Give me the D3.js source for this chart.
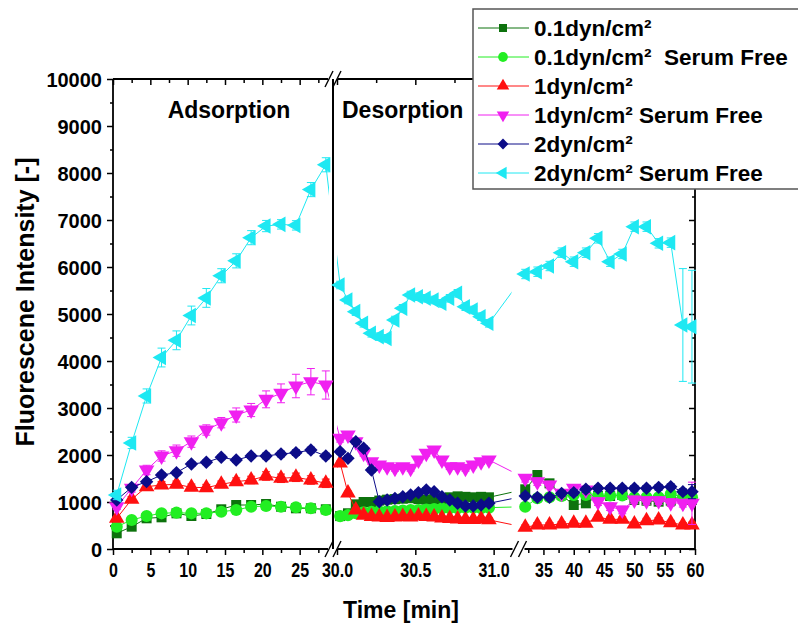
<!DOCTYPE html>
<html>
<head>
<meta charset="utf-8">
<script src="https://cdn.jsdelivr.net/npm/d3@7"></script>
<style>
body { margin: 0; background: #fff; }
text { font-family: Arial, "Liberation Sans", sans-serif; font-weight: bold; fill: #000; white-space: pre; }
</style>
</head>
<body>
<div id="chart"></div>
<script>

width = 798
height = 625

// time points [min]: adsorption, desorption, after second break
const tAds = [0.5, 2.5, 4.5, 6.5, 8.5, 10.5, 12.5, 14.5, 16.5, 18.5, 20.5, 22.5, 24.5, 26.5, 28.5]
const tDes = [30.02, 30.07, 30.12, 30.17, 30.22, 30.27, 30.32, 30.37, 30.42, 30.47,
              30.52, 30.57, 30.62, 30.67, 30.72, 30.77, 30.82, 30.87, 30.92, 30.97]
const tRec = [32, 34, 36, 38, 40, 42, 44, 46, 48, 50, 52, 54, 56, 58, 59.5]

const names = ["0.1dyn/cm²", "0.1dyn/cm²  Serum Free", "1dyn/cm²", "1dyn/cm² Serum Free", "2dyn/cm²", "2dyn/cm² Serum Free"]
const colors = ["#0d720d", "#22ee22", "#ff1010", "#f020f0", "#0c0c88", "#1ee8f2"]

const yTicks = [0, 1000, 2000, 3000, 4000, 5000, 6000, 7000, 8000, 9000, 10000]

// fluorescence values, one array per series (adsorption | desorption | rest)
const v01 = [334, 475, 653, 674, 759, 702, 745, 845, 936, 936, 957, 900, 866, 866, 845,
             700, 760, 950, 1000, 1000, 1030, 1050, 1060, 1070, 1080, 1060, 1050, 1060, 1050, 1100, 1120, 1110, 1100, 1110, 1100,
             1270, 1574, 1397, 1149, 936, 972, 1128, 1128, 1149, 1043, 1028, 1007, 1028, 1149, 1043]
const v01sf = [475, 617, 702, 759, 773, 759, 759, 794, 830, 900, 915, 900, 887, 866, 830,
               700, 720, 760, 780, 790, 800, 800, 810, 820, 830, 830, 840, 850, 860, 870, 870, 880, 880, 870, 880,
               900, 1080, 1100, 1130, 1150, 1150, 1130, 1140, 1140, 1100, 1100, 1100, 1170, 1100, 1100]
const v1 = [652, 1057, 1326, 1362, 1376, 1312, 1305, 1376, 1433, 1468, 1553, 1504, 1525, 1468, 1397,
            1830, 1190, 830, 720, 690, 680, 670, 680, 690, 680, 700, 690, 680, 660, 650, 640, 630, 630, 640, 620,
            461, 511, 511, 532, 546, 546, 674, 631, 631, 532, 603, 617, 560, 511, 511]
const v1sf = [900, 1291, 1681, 1979, 2092, 2284, 2532, 2688, 2851, 2957, 3184, 3312, 3468, 3560, 3489,
              2355, 2426, 2284, 2036, 1858, 1787, 1752, 1716, 1752, 1716, 1894, 2036, 2106, 1894, 1752, 1752, 1716, 1787, 1858, 1894,
              1504, 1433, 1362, 1184, 1291, 1255, 1007, 900, 830, 1043, 1028, 1028, 986, 972, 972]
const v2 = [1043, 1312, 1433, 1574, 1624, 1809, 1844, 1951, 1894, 1979, 1979, 2021, 2050, 2106, 1979,
            2071, 1929, 2284, 2142, 1681, 1007, 1043, 1078, 1113, 1149, 1199, 1255, 1220, 1113, 1043, 972, 915, 915, 936, 972,
            1128, 1099, 1099, 1184, 1199, 1270, 1291, 1291, 1291, 1291, 1291, 1312, 1326, 1220, 1220]
const v2sf = [1150, 2256, 3256, 4074, 4440, 4968, 5342, 5814, 6131, 6624, 6871, 6907, 6886, 7647, 8175,
              5617, 5298, 5050, 4802, 4589, 4518, 4482, 4872, 5121, 5404, 5368, 5334, 5298, 5227, 5334, 5440, 5155, 5085, 4943, 4802,
              5851, 5900, 6021, 6305, 6113, 6305, 6610, 6113, 6277, 6858, 6858, 6504, 6518, 4766, 4730]

// standard deviations
const e01 = [20, 30, 30, 40, 40, 40, 40, 40, 50, 50, 50, 50, 50, 50, 50,
             30, 30, 30, 30, 30, 30, 30, 30, 30, 30, 30, 30, 30, 30, 30, 30, 30, 30, 30, 30,
             40, 40, 40, 40, 40, 40, 40, 40, 40, 40, 40, 40, 40, 40, 60]
const e01sf = [20, 30, 30, 30, 30, 30, 30, 30, 40, 40, 40, 40, 40, 40, 40,
               30, 30, 30, 30, 30, 30, 30, 30, 30, 30, 30, 30, 30, 30, 30, 30, 30, 30, 30, 30,
               40, 40, 40, 40, 40, 40, 40, 40, 40, 40, 40, 40, 40, 40, 60]
const e1 = [40, 60, 60, 70, 70, 70, 70, 70, 80, 80, 90, 90, 90, 90, 90,
            40, 40, 40, 40, 40, 40, 40, 40, 40, 40, 40, 40, 40, 40, 40, 40, 40, 40, 40, 40,
            50, 50, 50, 50, 50, 50, 50, 50, 50, 50, 50, 50, 50, 50, 60]
const e1sf = [60, 80, 100, 110, 120, 120, 110, 110, 150, 140, 180, 200, 250, 280, 300,
              80, 60, 60, 60, 60, 60, 60, 60, 60, 60, 60, 60, 60, 60, 60, 60, 60, 60, 60, 60,
              80, 80, 80, 80, 80, 80, 80, 80, 80, 80, 80, 80, 80, 80, 450]
const e2 = [40, 50, 50, 50, 50, 50, 50, 50, 50, 50, 60, 60, 60, 60, 60,
            50, 50, 50, 50, 50, 50, 50, 50, 50, 50, 50, 50, 50, 50, 50, 50, 50, 50, 50, 50,
            60, 60, 60, 60, 60, 60, 60, 60, 60, 60, 60, 60, 60, 60, 150]
const e2sf = [100, 120, 150, 200, 200, 200, 200, 150, 150, 150, 120, 100, 100, 150, 150,
              80, 80, 80, 80, 80, 80, 80, 80, 80, 80, 80, 80, 80, 80, 80, 80, 80, 80, 80, 80,
              100, 100, 100, 100, 100, 100, 100, 100, 100, 100, 100, 100, 100, 1200, 1200]

const times = tAds.concat(tDes, tRec)
const values = [v01, v01sf, v1, v1sf, v2, v2sf]
const errors = [e01, e01sf, e1, e1sf, e2, e2sf]

// symbol shapes: square, circle, up, down, diamond, left
const shapes = [
    { type: d3.symbolSquare, size: 100, rot: 0 },
    { type: d3.symbolCircle, size: 115, rot: 0 },
    { type: d3.symbolTriangle, size: 105, rot: 0 },
    { type: d3.symbolTriangle, size: 105, rot: 180 },
    { type: d3.symbolSquare, size: 90, rot: 45 },
    { type: d3.symbolTriangle, size: 105, rot: -90 }
]

// broken x axis: 0-30 | 30-31.13 | 31.3-60
var x = d3.scaleLinear()
    .domain([0, 30, 31.13, 31.3, 60])
    .range([113, 337, 514, 521, 695])

var y = d3.scaleLinear()
    .domain([0, 10000])
    .range([549, 79])

let svg = d3.select("#chart")
    .append("svg")
    .attr("width", width)
    .attr("height", height)

const x0 = x(0), x1 = x(60)
const yb = y(0), yt = y(10000)
const brk1 = x(30) - 4
const brk2 = (x(31.13) + x(31.3)) / 2 + 1

// clip for lines, with gaps at the breaks
const clip = svg.append("defs").append("clipPath").attr("id", "lineclip")
clip.append("rect").attr("x", x0 - 10).attr("y", 0).attr("width", brk1 - 4 - x0 + 10).attr("height", height)
clip.append("rect").attr("x", brk1 + 4).attr("y", 0).attr("width", brk2 - 7 - brk1 - 4).attr("height", height)
clip.append("rect").attr("x", brk2 + 4).attr("y", 0).attr("width", x1 + 10 - brk2 - 4).attr("height", height)

// ---------- axes ----------
function tickAxis(axis, tx, ty, vals, size, labels) {
    let g = svg.append("g")
        .attr("transform", `translate(${tx}, ${ty})`)
        .call(axis.tickValues(vals).tickSize(size).tickPadding(5)
            .tickFormat(labels ? labels : () => ""))
    g.select(".domain").remove()
    g.selectAll("line").attr("stroke", "#000").attr("stroke-width", 1.5)
    return g
}

// left axis
let gl = tickAxis(d3.axisLeft(y), x0, 0, yTicks, 6, d3.format("d"))
gl.selectAll("text").style("font-size", "20px").attr("dy", "0.36em")
tickAxis(d3.axisLeft(y), x0, 0, yTicks.slice(1).map(d => d - 500), 3)
// right axis (ticks inside)
tickAxis(d3.axisRight(y), x1, 0, yTicks, -6)
tickAxis(d3.axisRight(y), x1, 0, yTicks.slice(1).map(d => d - 500), -3)

const seg1Major = [0, 5, 10, 15, 20, 25]
const seg1Minor = [2.5, 7.5, 12.5, 17.5, 22.5, 27.5]
const seg2Major = [30.0, 30.5, 31.0]
const seg2Minor = [30.25, 30.75]
const seg3Major = [35, 40, 45, 50, 55, 60]
const seg3Minor = [32.5, 37.5, 42.5, 47.5, 52.5, 57.5]

function bottomLabels(vals, fmt) {
    let g = tickAxis(d3.axisBottom(x), 0, yb, vals, 6, d3.format(fmt))
    g.selectAll("text")
        .style("font-size", "20px")
        .attr("y", 14)
        .attr("dy", "0.71em")
        .attr("transform", "scale(0.8,1)")
}
bottomLabels(seg1Major, "d")
bottomLabels(seg2Major, ".1f")
bottomLabels(seg3Major, "d")
tickAxis(d3.axisBottom(x), 0, yb, seg1Minor.concat(seg2Minor, seg3Minor), 4)
// top axis ticks point into the plot
tickAxis(d3.axisTop(x), 0, yt, seg1Major.concat(seg2Major, seg3Major), -6)
tickAxis(d3.axisTop(x), 0, yt, seg1Minor.concat(seg2Minor, seg3Minor), -4)

// axis lines with breaks
const frame = svg.append("g").attr("stroke", "#000").attr("stroke-width", 1.8).attr("fill", "none")
for (const yy of [yb, yt]) {
    frame.append("line").attr("x1", x0).attr("x2", brk1 - 5).attr("y1", yy).attr("y2", yy)
    frame.append("line").attr("x1", brk1 + 5).attr("x2", brk2 - 6).attr("y1", yy).attr("y2", yy)
    frame.append("line").attr("x1", brk2 + 6).attr("x2", x1).attr("y1", yy).attr("y2", yy)
    for (const b of [brk1, brk2]) {
        for (const dx of [-4, 4]) {
            frame.append("line")
                .attr("x1", b + dx - 4).attr("y1", yy + 8)
                .attr("x2", b + dx + 4).attr("y2", yy - 8)
                .attr("stroke-width", 1.4)
        }
    }
}
frame.append("line").attr("x1", x0).attr("x2", x0).attr("y1", yt).attr("y2", yb)
frame.append("line").attr("x1", x1).attr("x2", x1).attr("y1", yt).attr("y2", yb)
// separator between adsorption and desorption
frame.append("line").attr("x1", brk1).attr("x2", brk1).attr("y1", yt).attr("y2", yb).attr("stroke-width", 2)

// ---------- data ----------
const line = d3.line().x(d => x(d.t)).y(d => y(d.v))

values.forEach(function (vals, i) {
    let pts = vals.map((v, k) => ({ t: times[k], v: v, e: errors[i][k] }))
    let g = svg.append("g")

    g.append("path")
        .datum(pts)
        .attr("d", line)
        .attr("fill", "none")
        .attr("stroke", colors[i])
        .attr("stroke-width", 1)
        .attr("clip-path", "url(#lineclip)")

    let eb = g.selectAll(".eb").data(pts).enter().append("g")
        .attr("stroke", colors[i]).attr("stroke-width", 1)
    eb.append("line")
        .attr("x1", d => x(d.t)).attr("x2", d => x(d.t))
        .attr("y1", d => y(d.v - d.e)).attr("y2", d => y(d.v + d.e))
    for (const s of [-1, 1]) {
        eb.append("line")
            .attr("x1", d => x(d.t) - 4).attr("x2", d => x(d.t) + 4)
            .attr("y1", d => y(d.v + s * d.e)).attr("y2", d => y(d.v + s * d.e))
    }

    g.selectAll(".pt").data(pts).enter().append("path")
        .attr("d", d3.symbol().type(shapes[i].type).size(shapes[i].size))
        .attr("transform", d => `translate(${x(d.t)}, ${y(d.v)}) rotate(${shapes[i].rot})`)
        .attr("fill", colors[i])
})

// ---------- labels ----------
svg.append("text")
    .attr("x", 229).attr("y", 118)
    .attr("text-anchor", "middle")
    .style("font-size", "23px")
    .text("Adsorption")

svg.append("text")
    .attr("x", brk1 + 9).attr("y", 118)
    .style("font-size", "23px")
    .text("Desorption")

svg.append("text")
    .attr("x", 401).attr("y", 618)
    .attr("text-anchor", "middle")
    .style("font-size", "23px")
    .text("Time [min]")

svg.append("text")
    .attr("transform", "translate(34, 302) rotate(-90)")
    .attr("text-anchor", "middle")
    .style("font-size", "25px")
    .text("Fluorescene Intensity [-]")

// ---------- legend ----------
let legend = svg.append("g").attr("transform", "translate(473, 9)")
legend.append("rect")
    .attr("width", 340).attr("height", 180)
    .attr("fill", "#fff").attr("stroke", "#555").attr("stroke-width", 1.5)

names.forEach(function (n, i) {
    let row = legend.append("g").attr("transform", `translate(0, ${19 + i * 29})`)
    row.append("line").attr("x1", 5).attr("x2", 56).attr("stroke", colors[i]).attr("stroke-width", 1)
    row.append("path")
        .attr("d", d3.symbol().type(shapes[i].type).size(shapes[i].size * 0.65))
        .attr("transform", `translate(30, 0) rotate(${shapes[i].rot})`)
        .attr("fill", colors[i])
    row.append("text")
        .attr("x", 61).attr("dy", "0.36em")
        .style("font-size", "22.5px")
        .text(n)
})

</script>
</body>
</html>
